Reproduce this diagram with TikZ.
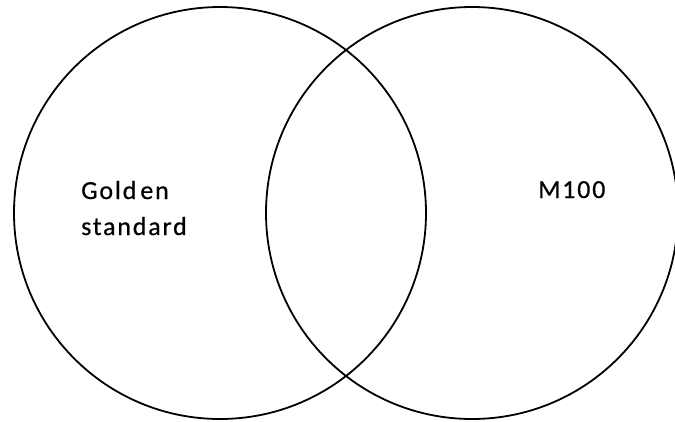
\documentclass[tikz,border=0pt]{standalone}
\usepackage{fontspec}
\newfontfamily\lab[LetterSpace=7,FakeBold=0.6]{Carlito}
\begin{document}
\begin{tikzpicture}[x=1pt,y=-1pt,
  vset/.style={draw=black,line width=1.8pt,circle,minimum size=412pt,inner sep=0pt},
  lbl/.style={font=\lab\fontsize{26}{37}\selectfont,align=left,anchor=base west,inner sep=0pt}]
\useasboundingbox (0,0) rectangle (675,421);
\node[vset] (a) at (220,213) {};
\node[vset] (b) at (472,213) {};
\node[lbl] (ta) at (81,199) {Gold\kern4pt en};
\node[lbl] (ta2) at (81,235) {standard};
\node[lbl] (tb) at (538,198) {M100};
\end{tikzpicture}
\end{document}
